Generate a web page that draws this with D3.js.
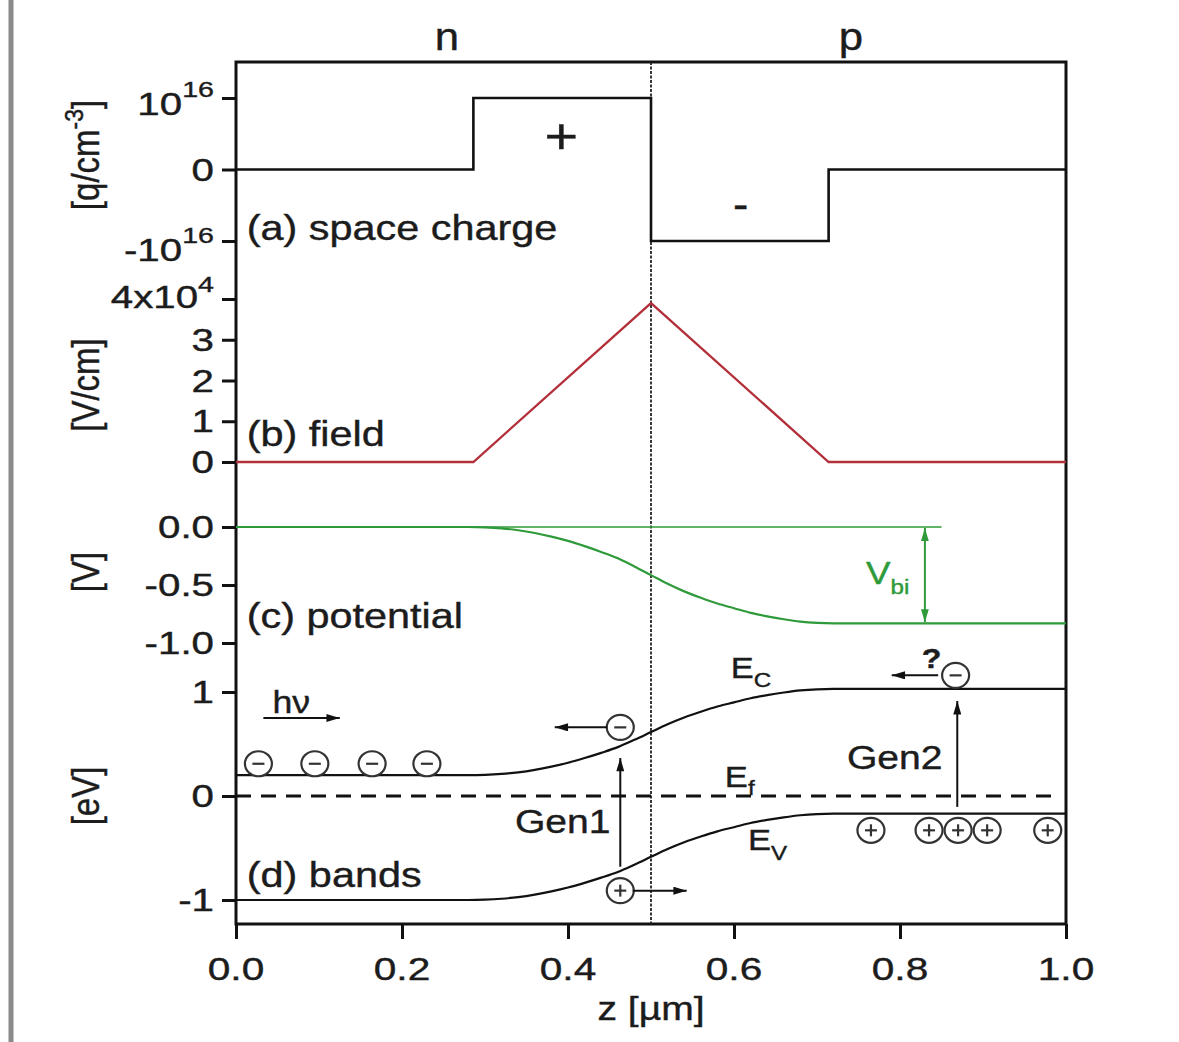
<!DOCTYPE html>
<html>
<head>
<meta charset="utf-8">
<script src="https://cdn.jsdelivr.net/npm/d3@7"></script>
<style>
  body { margin: 0; background: #fff; }
  svg { display: block; }
  text { font-family: "Liberation Sans", Arial, Helvetica, sans-serif; fill: #1c1c1c; stroke: #1c1c1c; stroke-width: 0.4; }
</style>
</head>
<body>
<script>
// ---- data ----
const zTicks = [0, 0.2, 0.4, 0.6, 0.8, 1.0];

// (a) space charge, units of 1e16 q/cm^3
const zCharge = [0, 0.286, 0.286, 0.5, 0.5, 0.714, 0.714, 1.0];
const charge = [0, 0, 1, 1, -1, -1, 0, 0];
const chargeTicks = [1, 0, -1];

// (b) field, units of 1e4 V/cm
const zField = [0, 0.286, 0.5, 0.714, 1.0];
const field = [0, 0, 3.9, 0, 0];
const fieldTicks = [0, 1, 2, 3, 4];

// (c) potential [V] and (d) bands [eV]
const zPot = [0, 0.28, 0.30, 0.32, 0.34, 0.36, 0.38, 0.40, 0.42, 0.44, 0.46, 0.48, 0.50,
              0.52, 0.54, 0.56, 0.58, 0.60, 0.62, 0.64, 0.66, 0.68, 0.70, 0.72, 1.0];
const potential = [0, 0, -0.003, -0.012, -0.028, -0.052, -0.083, -0.12, -0.165, -0.215, -0.27, -0.34, -0.415,
                   -0.49, -0.555, -0.61, -0.66, -0.70, -0.74, -0.77, -0.795, -0.815, -0.826, -0.83, -0.83];
const potTicks = [0, -0.5, -1.0];
const Ec = [0.2, 0.2, 0.203, 0.212, 0.228, 0.252, 0.283, 0.32, 0.365, 0.415, 0.47, 0.54, 0.615,
            0.69, 0.755, 0.81, 0.86, 0.90, 0.94, 0.97, 0.995, 1.015, 1.026, 1.03, 1.03];
const Ev = [-1.0, -1.0, -0.997, -0.988, -0.972, -0.948, -0.917, -0.88, -0.835, -0.785, -0.73, -0.66, -0.585,
            -0.51, -0.445, -0.39, -0.34, -0.30, -0.26, -0.23, -0.205, -0.185, -0.174, -0.17, -0.17];
const zEf = [0, 0.985];
const Ef = [0, 0];
const bandTicks = [1, 0, -1];

const Vbi = 0.83;
const zVbi = 0.83;
const zVbiLine = [0, 0.85];

// carriers drawn on the band diagram (z, energy)
const electronsN = [0.027, 0.095, 0.164, 0.23];
const electronsNE = 0.31;
const holesP = [0.765, 0.835, 0.870, 0.905, 0.978];
const holesPE = -0.33;

// ---- layout ----
const W = 1179, H = 1042;
const pLeft = 236, pRight = 1066, pTop = 62, pBottom = 924;
const sx = 1.15;    // the figure's text is a little wide
const tsx = 1.3;    // tick numbers even wider
const red = "#b3303a", green = "#2f9a3a";

const x = d3.scaleLinear([0, 1], [pLeft, pRight]);
const yA = d3.scaleLinear([-1, 1], [241, 98]);
const yB = d3.scaleLinear([0, 4], [462, 299]);
const yC = d3.scaleLinear([-1, 0], [643, 527]);
const yD = d3.scaleLinear([-1, 1], [900, 692]);

const svg = d3.select("body").append("svg")
    .attr("width", W)
    .attr("height", H);

const defs = svg.append("defs");
function marker(id, color, w, h) {
  defs.append("marker")
      .attr("id", id)
      .attr("viewBox", "0 0 10 6")
      .attr("refX", 10).attr("refY", 3)
      .attr("markerUnits", "userSpaceOnUse")
      .attr("markerWidth", w).attr("markerHeight", h)
      .attr("orient", "auto-start-reverse")
    .append("path")
      .attr("d", "M0,0L10,3L0,6Z")
      .attr("fill", color);
}
marker("ah", "#111", 15, 8);
marker("ahg", green, 13, 9);

// page border artefact on the left
svg.append("line")
    .attr("x1", 11).attr("x2", 11).attr("y1", 0).attr("y2", H)
    .attr("stroke", "#8a8a8a").attr("stroke-width", 5);

// text helper, stretched horizontally like the source
function label(x0, y0, str, size, anchor, color, stretch) {
  return svg.append("text")
      .attr("transform", `translate(${x0},${y0}) scale(${stretch || sx},1)`)
      .attr("text-anchor", anchor || "start")
      .attr("font-size", size)
      .style("fill", color || null)
      .style("stroke", color || null)
      .text(str);
}
function addScript(t, str, size, dy) {
  return t.append("tspan").attr("font-size", size).attr("dy", dy).text(str);
}
function tick(x0, y0, str, anchor) {
  return label(x0, y0, str, 31, anchor || "end", null, tsx);
}

// ---- axes ----
function yAxis(scale, ticks) {
  const g = svg.append("g").attr("transform", `translate(${pLeft},0)`)
      .call(d3.axisLeft(scale).tickValues(ticks).tickSize(14).tickFormat(""));
  g.select(".domain").remove();
  g.selectAll(".tick line").attr("stroke", "#111").attr("stroke-width", 3);
  return g;
}
yAxis(yA, chargeTicks);
yAxis(yB, fieldTicks);
yAxis(yC, potTicks);
yAxis(yD, bandTicks);

const xg = svg.append("g").attr("transform", `translate(0,${pBottom})`)
    .call(d3.axisBottom(x).tickValues(zTicks).tickSize(15).tickFormat(""));
xg.select(".domain").remove();
xg.selectAll(".tick line").attr("stroke", "#111").attr("stroke-width", 3);

zTicks.forEach(v => label(x(v), 980, d3.format(".1f")(v), 32, "middle", null, 1.27));

// y tick labels
const tx = 214;
let t = tick(tx, yA(1) + 17, "10");
addScript(t, "16", 22, -18);
tick(tx, yA(0) + 11, "0");
t = tick(tx, yA(-1) + 20, "-10");
addScript(t, "16", 22, -18);
fieldTicks.forEach(v => {
  if (v === 4) {
    t = tick(tx, yB(v) + 9, "4x10");
    addScript(t, "4", 22, -16);
  } else {
    tick(tx, yB(v) + 11, String(v));
  }
});
potTicks.forEach(v => tick(tx, yC(v) + 11, d3.format(".1f")(v).replace("−", "-")));
bandTicks.forEach(v => tick(tx, yD(v) + 11, String(v)));

// axis titles
function vTitle(cy, parts) {
  const tt = svg.append("text")
      .attr("transform", `translate(99,${cy}) scale(${sx},1) rotate(-90)`)
      .attr("text-anchor", "middle")
      .attr("font-size", 33);
  parts.forEach(p => {
    const s = tt.append("tspan").text(p[0]);
    if (p[1]) s.attr("font-size", p[1] < 0 ? 23 : 33).attr("dy", p[1]);
  });
}
vTitle(155, [["[q/cm"], ["-3", -14], ["]", 14]]);
vTitle(385, [["[V/cm]"]]);
vTitle(572, [["[V]"]]);
vTitle(796, [["[eV]"]]);

label((pLeft + pRight) / 2, 1020, "z [µm]", 34, "middle");
label(447, 50, "n", 38, "middle");
label(851, 50, "p", 38, "middle");

// ---- frame and junction ----
svg.append("rect")
    .attr("x", pLeft).attr("y", pTop)
    .attr("width", pRight - pLeft).attr("height", pBottom - pTop)
    .attr("fill", "none").attr("stroke", "#111").attr("stroke-width", 3);

svg.append("line")
    .attr("x1", x(0.5)).attr("x2", x(0.5))
    .attr("y1", pTop).attr("y2", pBottom)
    .attr("stroke", "#222").attr("stroke-width", 1.8)
    .attr("stroke-dasharray", "3,1.5");

// ---- curves ----
function curve(zs, vs, yScale, color, width, smooth) {
  const line = d3.line()
      .x(d => x(d[0]))
      .y(d => yScale(d[1]));
  if (smooth) line.curve(d3.curveMonotoneX);
  return svg.append("path")
      .datum(d3.zip(zs, vs))
      .attr("d", line)
      .attr("fill", "none")
      .attr("stroke", color)
      .attr("stroke-width", width)
      .attr("stroke-linejoin", "miter");
}

curve(zCharge, charge, yA, "#111", 2.6, false);
curve(zField, field, yB, red, 2.3, false);
curve(zVbiLine, [0, 0], yC, green, 1.6, false);
curve(zPot, potential, yC, green, 2.2, true);
curve(zPot, Ec, yD, "#111", 2.2, true);
curve(zPot, Ev, yD, "#111", 2.2, true);
curve(zEf, Ef, yD, "#111", 3, false).attr("stroke-dasharray", "15,10");

// ---- panel labels ----
label(x(0.013), 240, "(a) space charge", 36);
label(x(0.013), 446, "(b) field", 36);
label(x(0.013), 628, "(c) potential", 36);
label(x(0.013), 887, "(d) bands", 36);

label(x(0.392), 153, "+", 50, "middle");
label(x(0.608), 218, "-", 40, "middle");

// built-in voltage
svg.append("line")
    .attr("x1", x(zVbi)).attr("x2", x(zVbi))
    .attr("y1", yC(0) + 1).attr("y2", yC(-Vbi) - 1)
    .attr("stroke", green).attr("stroke-width", 2)
    .attr("marker-start", "url(#ahg)")
    .attr("marker-end", "url(#ahg)");
t = label(x(0.759), 584, "V", 32, "start", green);
addScript(t, "bi", 21, 10);

// ---- band diagram annotations ----
function carrier(z, e, sign) {
  const cx = x(z), cy = yD(e);
  const g = svg.append("g").attr("stroke", "#333").attr("stroke-width", 2.2);
  g.append("ellipse").attr("cx", cx).attr("cy", cy).attr("rx", 13.5).attr("ry", 12.5).attr("fill", "#fff");
  g.append("line").attr("x1", cx - 6).attr("x2", cx + 6).attr("y1", cy).attr("y2", cy);
  if (sign > 0) g.append("line").attr("x1", cx).attr("x2", cx).attr("y1", cy - 6).attr("y2", cy + 6);
}
function arrow(z1, e1, z2, e2, w) {
  svg.append("line")
      .attr("x1", x(z1)).attr("y1", yD(e1))
      .attr("x2", x(z2)).attr("y2", yD(e2))
      .attr("stroke", "#111").attr("stroke-width", w || 2)
      .attr("marker-end", "url(#ah)");
}

electronsN.forEach(z => carrier(z, electronsNE, -1));
holesP.forEach(z => carrier(z, holesPE, 1));

// photon
svg.append("text")
    .attr("transform", `translate(${x(0.044)},${yD(0.80)}) scale(${sx},1)`)
    .attr("font-family", "'Liberation Serif', 'Times New Roman', serif")
    .attr("font-size", 31)
    .text("hν");
arrow(0.033, 0.75, 0.125, 0.75, 2);

// Gen1 in the depletion region
arrow(0.463, -0.68, 0.463, 0.365, 2);
carrier(0.463, 0.66, -1);
arrow(0.447, 0.66, 0.384, 0.66, 2);
carrier(0.463, -0.91, 1);
arrow(0.478, -0.91, 0.543, -0.91, 2);
label(x(0.336), 833, "Gen1", 34);

// Gen2 in the p region
arrow(0.869, -0.105, 0.869, 0.913, 2);
carrier(0.867, 1.16, -1);
arrow(0.846, 1.16, 0.79, 1.16, 2);
label(x(0.838), 668, "?", 28, "middle").attr("font-weight", "bold");
label(x(0.736), 769, "Gen2", 34);

t = label(x(0.596), 678, "E", 30);
addScript(t, "C", 21, 9);
t = label(x(0.589), 787, "E", 30);
addScript(t, "f", 21, 8);
t = label(x(0.617), 850, "E", 30);
addScript(t, "V", 21, 10);
</script>
</body>
</html>
